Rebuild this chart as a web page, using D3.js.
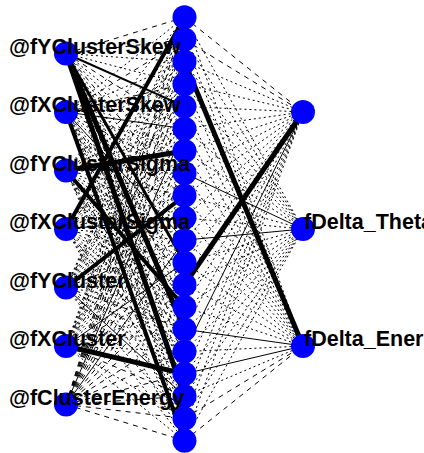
<!DOCTYPE html>
<html>
<head>
<meta charset="utf-8">
<script src="https://d3js.org/d3.v7.min.js"></script>
<style>
  body { margin: 0; background: #fff; }
  svg { display: block; }
</style>
</head>
<body>
<svg id="network" width="424" height="453"></svg>
<script>
// layer labels
var inputLabels = ["@fYClusterSkew", "@fXClusterSkew", "@fYClusterSigma", "@fXClusterSigma",
                   "@fYCluster", "@fXCluster", "@fClusterEnergy"];
var hiddenCount = 20;
var outputLabels = ["", "fDelta_Theta", "fDelta_Energy"];

// synapse weights, as |w|/max*10 (one row per input neuron, one column per hidden neuron)
var w_in0 = [0.3, 0.4, 0.2, 0.15, 2.2, 0.35, 0.1, 0.2, 0.3, 0.15, 0.2, 3.0, 0.1, 0.2, 5.0, 0.3, 0.15, 5.5, 0.2, 0.1];
var w_in1 = [0.2, 0.3, 0.15, 0.4, 0.2, 1.2, 0.1, 0.3, 0.2, 0.15, 1.5, 0.2, 0.35, 0.1, 0.2, 0.3, 0.15, 0.2, 0.1, 4.2];
var w_in2 = [0.15, 0.2, 0.3, 0.1, 0.2, 0.15, 5.0, 0.2, 0.3, 0.1, 0.2, 0.15, 0.2, 4.5, 0.1, 0.3, 0.2, 0.15, 0.3, 0.2];
var w_in3 = [4.0, 0.2, 0.15, 0.3, 0.1, 0.2, 0.35, 0.15, 0.2, 1.5, 0.1, 0.3, 0.2, 0.15, 0.1, 0.2, 0.3, 0.15, 0.2, 0.1];
var w_in4 = [0.2, 0.15, 0.3, 0.1, 0.2, 0.15, 0.2, 0.1, 4.5, 0.2, 0.3, 0.15, 0.2, 0.1, 0.3, 0.2, 0.15, 1.2, 0.2, 0.1];
var w_in5 = [0.15, 0.2, 0.1, 0.3, 0.2, 0.15, 0.2, 0.35, 0.1, 0.2, 0.15, 1.1, 0.3, 0.2, 0.1, 0.2, 5.0, 0.3, 0.15, 0.2];
var w_in6 = [0.4, 0.3, 0.45, 0.35, 0.4, 1.0, 0.3, 0.45, 0.4, 0.35, 1.0, 0.4, 0.3, 0.45, 0.35, 0.4, 0.3, 0.45, 0.4, 0.35];

// hidden -> output weights (one column per output neuron)
var w_out0 = [0.3, 0.35, 0.2, 0.2, 0.15, 0.2, 0.15, 0.2, 0.1, 0.1, 0.2, 0.15, 5.5, 0.2, 0.1, 1.1, 0.2, 0.15, 0.2, 0.1];
var w_out1 = [0.2, 0.15, 0.1, 0.2, 0.15, 0.1, 0.2, 1.2, 0.15, 0.2, 1.5, 0.2, 0.15, 0.1, 0.2, 0.15, 0.1, 0.2, 0.1, 0.2];
var w_out2 = [0.15, 0.2, 5.5, 0.15, 0.2, 0.1, 0.1, 0.15, 0.2, 0.15, 0.1, 0.2, 0.2, 0.15, 1.8, 0.2, 1.6, 0.2, 0.3, 0.45];

var weightsIn = [w_in0, w_in1, w_in2, w_in3, w_in4, w_in5, w_in6];
var weightsOut = [w_out0, w_out1, w_out2];

var svg = d3.select("#network"),
    width = +svg.attr("width"),
    height = +svg.attr("height");

svg.append("rect").attr("width", width).attr("height", height).attr("fill", "#fff");

// x position of the three layers
var x = d3.scaleLinear().domain([0, 2]).range([66, 303]);

// y position: neuron i of n sits at (i+1)/(n+1) of the pad
function yScale(n) {
    return d3.scaleLinear().domain([0, n + 1]).range([-5, 463]);
}
var yIn = yScale(inputLabels.length),
    yHid = yScale(hiddenCount),
    yOut = yScale(outputLabels.length);

// build synapse list
var synapses = [];
weightsIn.forEach(function(row, i) {
    row.forEach(function(w, j) {
        synapses.push({x1: x(0), y1: yIn(i + 1), x2: x(1), y2: yHid(j + 1), w: w});
    });
});
weightsOut.forEach(function(col, k) {
    col.forEach(function(w, j) {
        synapses.push({x1: x(1), y1: yHid(j + 1), x2: x(2), y2: yOut(k + 1), w: w});
    });
});

function dash(w) {
    if (w < 0.25) return "2,3";   // dotted
    if (w < 0.5) return "5,5";    // dashed
    return null;
}

svg.append("g")
    .selectAll("line")
    .data(synapses)
    .enter()
    .append("line")
    .attr("x1", function(d) { return d.x1; })
    .attr("y1", function(d) { return d.y1; })
    .attr("x2", function(d) { return d.x2; })
    .attr("y2", function(d) { return d.y2; })
    .attr("stroke", "black")
    .attr("stroke-width", function(d) { return Math.max(1, Math.floor(d.w)); })
    .style("stroke-dasharray", function(d) { return dash(d.w); });

// neurons
var nodes = [];
inputLabels.forEach(function(l, i) { nodes.push({x: x(0), y: yIn(i + 1)}); });
d3.range(hiddenCount).forEach(function(j) { nodes.push({x: x(1), y: yHid(j + 1)}); });
outputLabels.forEach(function(l, k) { nodes.push({x: x(2), y: yOut(k + 1)}); });

svg.append("g")
    .selectAll("circle")
    .data(nodes)
    .enter()
    .append("circle")
    .attr("cx", function(d) { return d.x; })
    .attr("cy", function(d) { return d.y; })
    .attr("r", 12)
    .attr("fill", "#0000ff");

// labels (the output labels run off the right edge, as in the original)
svg.append("g")
    .selectAll("text")
    .data(inputLabels)
    .enter()
    .append("text")
    .attr("x", 9)
    .attr("y", function(d, i) { return yIn(i + 1); })
    .text(function(d) { return d; })
    .style("font-family", "'Liberation Sans', Arial, sans-serif")
    .style("font-weight", "bold")
    .style("font-size", "21.5px");

svg.append("g")
    .selectAll("text")
    .data(outputLabels)
    .enter()
    .append("text")
    .attr("x", x(2) + 1)
    .attr("y", function(d, i) { return yOut(i + 1); })
    .text(function(d) { return d; })
    .style("font-family", "'Liberation Sans', Arial, sans-serif")
    .style("font-weight", "bold")
    .style("font-size", "21.5px");
</script>
</body>
</html>
